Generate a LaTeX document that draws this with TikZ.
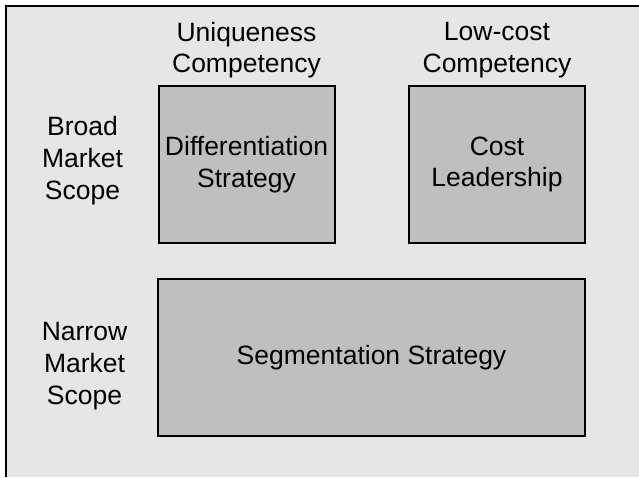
\documentclass[tikz,border=0pt]{standalone}
\usepackage{fontspec}
\setmainfont{Liberation Sans}
\definecolor{outerbg}{HTML}{E6E6E6}
\definecolor{boxfill}{HTML}{BFBFBF}
\begin{document}
\begin{tikzpicture}[x=1pt,y=-1pt,
  every node/.style={font=\fontsize{26.5}{31.7}\selectfont, inner sep=0pt, outer sep=0pt, align=center, text=black},
  stratbox/.style={draw=black, line width=2pt, fill=boxfill},
  lbl/.style={}]
\useasboundingbox (0,0) rectangle (639,477);
\fill[outerbg] (6,6) rectangle (639,477);
\draw[line width=2pt] (6,477) -- (6,6) -- (639,6);
\node[stratbox, minimum width=176pt, minimum height=157pt] (diff) at (246.5,164.5) {Differentiation\\Strategy};
\node[stratbox, minimum width=176pt, minimum height=157pt] (cost) at (497,164.5) {Cost\\Leadership};
\node[stratbox, minimum width=427pt, minimum height=157pt] (seg) at (371.5,357.5) {Segmentation Strategy};
\node[lbl] (uniq) at (246.5,50) {Uniqueness\\Competency};
\node[lbl] (low) at (497,50) {Low-cost\\Competency};
\node[lbl] (broad) at (82.5,160.5) {Broad\\Market\\Scope};
\node[lbl] (narrow) at (84.5,366) {Narrow\\Market\\Scope};
\end{tikzpicture}
\end{document}
